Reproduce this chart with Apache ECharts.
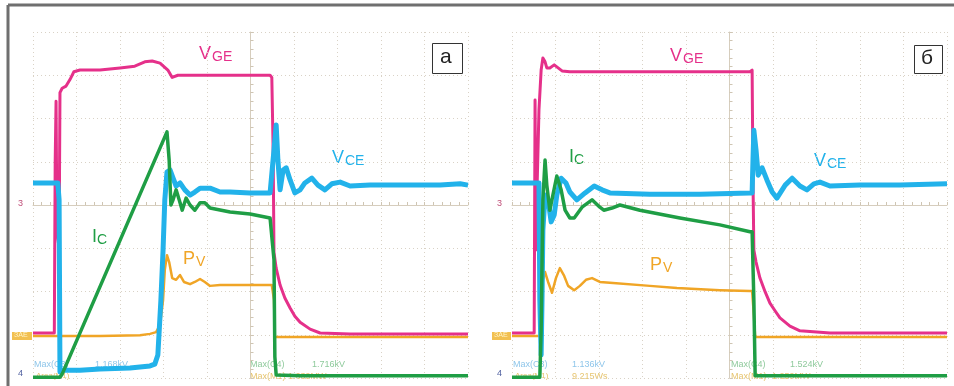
<!DOCTYPE html>
<html><head><meta charset="utf-8">
<script src="https://cdn.jsdelivr.net/npm/echarts@6/dist/echarts.min.js"></script>
<style>html,body{margin:0;padding:0;background:#fff}#c{width:954px;height:386px}</style>
</head><body><div id="c"></div>
<script>
// Oscilloscope traces, in screen divisions (x: 0..10, y: 0..8)
const vgeA = [[0,1.04],[0.49,1.04],[0.51,5.0],[0.53,6.4],[0.55,3.4],[0.6,3.0],[0.62,6.6],[0.67,6.7],[0.76,6.75],[0.85,6.9],[0.94,7.08],[1.08,7.12],[1.54,7.12],[2.0,7.17],[2.34,7.21],[2.57,7.31],[2.74,7.33],[2.92,7.28],[3.1,7.12],[3.2,6.95],[3.33,7.0],[3.84,7.0],[4.76,7.0],[5.45,7.0],[5.49,6.95],[5.52,5.3],[5.54,2.9],[5.59,2.54],[5.68,2.15],[5.79,1.85],[5.91,1.62],[6.02,1.43],[6.14,1.29],[6.37,1.13],[6.6,1.04],[7.29,1.02],[8.44,1.02],[10,1.02]];
const vceA = [[0,4.51],[0.57,4.51],[0.6,4.12],[0.62,0.14],[0.67,0.18],[1.08,0.18],[1.54,0.21],[2.23,0.23],[2.69,0.28],[2.8,0.32],[2.87,0.53],[2.94,1.8],[2.99,2.96],[3.03,4.12],[3.08,4.76],[3.15,4.81],[3.22,4.62],[3.29,4.44],[3.38,4.51],[3.49,4.35],[3.61,4.23],[3.72,4.3],[3.84,4.39],[4.07,4.39],[4.3,4.3],[4.53,4.3],[4.99,4.28],[5.45,4.28],[5.49,4.28],[5.54,5.27],[5.59,5.85],[5.63,5.04],[5.68,4.35],[5.75,4.81],[5.82,4.86],[5.91,4.58],[6.02,4.28],[6.14,4.35],[6.25,4.51],[6.41,4.62],[6.55,4.46],[6.71,4.35],[6.87,4.49],[7.06,4.53],[7.29,4.44],[7.75,4.46],[8.44,4.46],[9.36,4.46],[9.82,4.49],[10,4.46]];
const icA = [[0,0.02],[0.62,0.02],[0.67,0.09],[3.08,5.69],[3.13,5.04],[3.17,4.0],[3.22,4.12],[3.29,4.35],[3.36,4.12],[3.43,3.88],[3.52,4.16],[3.61,4.0],[3.72,3.88],[3.84,4.05],[3.95,4.05],[4.07,3.93],[4.53,3.84],[4.99,3.79],[5.45,3.7],[5.49,3.7],[5.54,2.73],[5.56,0.49],[5.59,0.07],[6.14,0.05],[10,0.05]];
const pvA = [[0,0.97],[1.54,0.97],[2.46,0.99],[2.69,1.02],[2.83,1.06],[2.92,1.23],[2.99,1.8],[3.03,2.5],[3.08,2.84],[3.13,2.68],[3.2,2.31],[3.29,2.27],[3.38,2.38],[3.47,2.22],[3.61,2.17],[3.72,2.22],[3.84,2.29],[3.95,2.22],[4.07,2.13],[4.3,2.15],[4.76,2.15],[5.49,2.15],[5.54,1.8],[5.56,0.95],[6.14,0.95],[10,0.95]];

const vgeB = [[0,1.04],[0.51,1.04],[0.53,6.43],[0.55,2.96],[0.57,4.12],[0.62,6.2],[0.67,7.12],[0.71,7.4],[0.76,7.31],[0.8,7.17],[0.87,7.17],[0.97,7.24],[1.06,7.17],[1.15,7.1],[1.33,7.08],[2.02,7.08],[3.17,7.08],[4.32,7.08],[5.47,7.08],[5.52,7.12],[5.54,4.58],[5.56,2.96],[5.61,2.68],[5.7,2.31],[5.82,1.99],[5.93,1.73],[6.05,1.55],[6.16,1.39],[6.39,1.2],[6.62,1.09],[7.31,1.04],[10,1.04]];
const vceB = [[0,4.51],[0.62,4.51],[0.64,1.8],[0.67,0.53],[0.69,1.8],[0.71,3.42],[0.76,4.23],[0.83,4.12],[0.9,3.61],[0.97,3.77],[1.03,4.23],[1.13,4.62],[1.24,4.51],[1.33,4.3],[1.49,4.12],[1.68,4.28],[1.89,4.44],[2.07,4.35],[2.25,4.28],[3.17,4.25],[4.32,4.25],[5.47,4.28],[5.52,4.28],[5.54,5.04],[5.56,5.73],[5.61,5.27],[5.66,4.69],[5.75,4.86],[5.86,4.58],[5.98,4.3],[6.09,4.16],[6.28,4.46],[6.44,4.62],[6.62,4.44],[6.78,4.35],[6.94,4.49],[7.08,4.53],[7.31,4.44],[8.0,4.46],[8.92,4.46],[10,4.49]];
const icB = [[0,0.02],[0.64,0.02],[0.67,1.11],[0.71,4.12],[0.76,5.04],[0.8,4.46],[0.87,3.88],[0.94,4.23],[1.03,4.67],[1.13,4.35],[1.22,3.88],[1.33,3.7],[1.43,3.7],[1.61,3.95],[1.84,4.12],[2.02,3.95],[2.11,3.88],[2.3,3.93],[2.48,4.0],[2.94,3.88],[3.86,3.7],[4.78,3.54],[5.47,3.38],[5.52,3.38],[5.56,1.8],[5.59,0.05],[6.62,0.05],[10,0.05]];
const pvB = [[0,0.97],[0.64,0.97],[0.67,1.34],[0.71,2.27],[0.76,2.45],[0.83,2.22],[0.92,1.97],[1.01,2.31],[1.1,2.54],[1.2,2.36],[1.29,2.13],[1.43,2.03],[1.56,2.13],[1.7,2.27],[1.84,2.31],[2.02,2.22],[2.25,2.2],[3.17,2.13],[3.79,2.08],[4.78,2.03],[5.47,2.01],[5.52,2.01],[5.56,1.46],[5.59,0.95],[6.62,0.95],[10,0.95]];

const measA = ['Max(C3)', '1.168kV', 'Max(C4)', '1.716kV', 'Area(M1)', 'Max(M1)', '1.639MW'];
const measB = ['Max(C3)', '1.136kV', 'Max(C4)', '1.524kV', 'Area(M1)', '9.215Ws', 'Max(M1)', '1.259MW'];

const C = {vge:'#e5308a', vce:'#22b2ea', ic:'#1f9e45', pv:'#f0a526'};
const grid = '#d9d2c6';
const FONT = '"Liberation Sans", Arial, sans-serif';

function axisX(g){return {type:'value',gridIndex:g,min:0,max:10,interval:1,
  axisLine:{show:false},axisTick:{show:false},axisLabel:{show:false},
  splitLine:{show:true,lineStyle:{color:grid,type:[1,3],width:1}}};}
function axisY(g){return {type:'value',gridIndex:g,min:0,max:8,interval:1,
  axisLine:{show:false},axisTick:{show:false},axisLabel:{show:false},
  splitLine:{show:true,lineStyle:{color:grid,type:[1,3],width:1}}};}
function cross(g){return [
  {type:'value',gridIndex:g,min:0,max:10,interval:1,position:'bottom',offset:-173,
   axisLine:{show:true,lineStyle:{color:'#d6cdbd',width:1}},
   axisTick:{show:true,inside:true,length:3,lineStyle:{color:'#cfc5b3'}},
   minorTick:{show:true,splitNumber:5,length:3,lineStyle:{color:'#cfc5b3'}},
   axisLabel:{show:false},splitLine:{show:false}}];}
function crossY(g){return [
  {type:'value',gridIndex:g,min:0,max:8,interval:1,position:'left',offset:-217.5,
   axisLine:{show:true,lineStyle:{color:'#d6cdbd',width:1}},
   axisTick:{show:true,inside:true,length:3,lineStyle:{color:'#cfc5b3'}},
   minorTick:{show:true,splitNumber:5,length:3,lineStyle:{color:'#cfc5b3'}},
   axisLabel:{show:false},splitLine:{show:false}}];}

function ser(data,color,w,xi,yi,z){return {type:'line',data:data,xAxisIndex:xi,yAxisIndex:yi,
  showSymbol:false,symbol:'none',z:z,animation:false,
  lineStyle:{color:color,width:w,join:'round'}};}

const chart = echarts.init(document.getElementById('c'),null,{renderer:'canvas'});

function t(x,y,s,size,color,extra){return Object.assign({type:'text',left:x,top:y,silent:true,
  style:{text:s,fontSize:size,fill:color,fontFamily:FONT}},extra||{});}
function sub(x,y,a,b,color){return [t(x,y,a,18,color),t(x+(a==='I'?5:13),y+5,b,14,color)];}

const mc = '#8fc6ea', mg = '#8fca9c', mo = '#e6c46e';
const graphics = [
  {type:'line',shape:{x1:8,y1:5,x2:954,y2:5},style:{stroke:'#6f6f6f',lineWidth:3},silent:true},
  {type:'line',shape:{x1:8,y1:5,x2:8,y2:386},style:{stroke:'#6f6f6f',lineWidth:3},silent:true},
  // boxes
  {type:'rect',shape:{x:432.5,y:43.5,width:30,height:30},style:{fill:'#fff',stroke:'#333',lineWidth:1},z:100},
  {type:'text',left:440,top:47,style:{text:'a',fontSize:21,fill:'#222',fontFamily:FONT},z:101},
  {type:'rect',shape:{x:914.5,y:45.5,width:28,height:28},style:{fill:'#fff',stroke:'#333',lineWidth:1},z:100},
  {type:'text',left:921,top:48,style:{text:'б',fontSize:21,fill:'#222',fontFamily:FONT},z:101},
  // channel markers
  t(18,199,'3',9,'#c0507a'), t(18,369,'4',9,'#5060a0'),
  t(497,199,'3',9,'#c0507a'), t(497,369,'4',9,'#5060a0'),
  {type:'rect',shape:{x:12,y:332,width:20,height:8},style:{fill:'#f2c050'}},
  {type:'text',left:14,top:332,style:{text:'ЗAE',fontSize:7,fill:'#fff3c8',fontFamily:FONT}},
  {type:'rect',shape:{x:492,y:332,width:19,height:8},style:{fill:'#f2c050'}},
  {type:'text',left:494,top:332,style:{text:'ЗAE',fontSize:7,fill:'#fff3c8',fontFamily:FONT}},
  // measurements
  t(34,360,measA[0],9,mc), t(95,360,measA[1],9,mc), t(250,360,measA[2],9,mg), t(312,360,measA[3],9,mg),
  t(36,372,measA[4],8,mo), t(250,372,measA[5],9,mo), t(288,372,measA[6],9,mo),
  t(513,360,measB[0],9,mc), t(572,360,measB[1],9,mc), t(731,360,measB[2],9,mg), t(790,360,measB[3],9,mg),
  t(515,372,measB[4],8,mo), t(572,372,measB[5],9,mo), t(731,372,measB[6],9,mo), t(772,372,measB[7],9,mo),
]
.concat(sub(199,45,'V','GE',C.vge))
.concat(sub(332,149,'V','CE',C.vce))
.concat(sub(92,228,'I','C',C.ic))
.concat(sub(183,250,'P','V',C.pv))
.concat(sub(670,47,'V','GE',C.vge))
.concat(sub(814,152,'V','CE',C.vce))
.concat(sub(569,148,'I','C',C.ic))
.concat(sub(650,256,'P','V',C.pv));

chart.setOption({
  animation:false,
  backgroundColor:'#fff',
  grid:[{left:33,top:32,width:435,height:346},{left:512,top:32,width:435,height:346}],
  xAxis:[axisX(0),axisX(1)].concat(cross(0)).concat(cross(1)),
  yAxis:[axisY(0),axisY(1)].concat(crossY(0)).concat(crossY(1)),
  series:[
    ser(pvA,C.pv,2.5,0,0,2), ser(vgeA,C.vge,3,0,0,3), ser(vceA,C.vce,5,0,0,4), ser(icA,C.ic,3.5,0,0,5),
    ser(pvB,C.pv,2.5,1,1,2), ser(vgeB,C.vge,3,1,1,3), ser(vceB,C.vce,5,1,1,4), ser(icB,C.ic,3.5,1,1,5)
  ],
  graphic:graphics
});
</script></body></html>
